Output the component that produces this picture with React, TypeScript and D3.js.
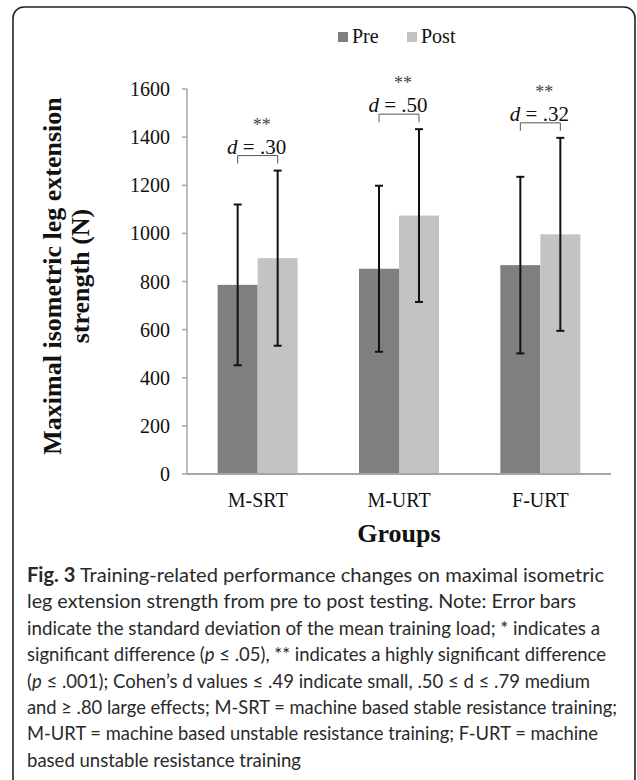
import * as d3 from 'd3';

const groups = ['M-SRT', 'M-URT', 'F-URT'];
const seriesNames = ['Pre', 'Post'];
const preMeans = [786, 853, 868];
const preSD = [334, 345, 367];
const postMeans = [897, 1074, 996];
const postSD = [364, 359, 401];
const effectSizes = ['.30', '.50', '.32'];
const significance = ['**', '**', '**'];
const yTicks = [0, 200, 400, 600, 800, 1000, 1200, 1400, 1600];
const yTitleLines = ['Maximal isometric leg extension', 'strength (N)'];
const xTitle = 'Groups';

const captionLines: { text: string; bold?: boolean; italic?: boolean }[][] = [
  [{ text: 'Fig. 3', bold: true }, { text: ' Training-related performance changes on maximal isometric' }],
  [{ text: 'leg extension strength from pre to post testing. Note: Error bars' }],
  [{ text: 'indicate the standard deviation of the mean training load; * indicates a' }],
  [
    { text: 'significant difference (' },
    { text: 'p', italic: true },
    { text: ' ≤ .05), ** indicates a highly significant difference' },
  ],
  [
    { text: '(' },
    { text: 'p', italic: true },
    { text: ' ≤ .001); Cohen’s d values ≤ .49 indicate small, .50 ≤ d ≤ .79 medium' },
  ],
  [{ text: 'and ≥ .80 large effects; M-SRT = machine based stable resistance training;' }],
  [{ text: 'M-URT = machine based unstable resistance training; F-URT = machine' }],
  [{ text: 'based unstable resistance training' }],
];
const captionWidths = [577, 549, 573, 579, 563, 590, 571, 274];

const serif = '"Liberation Serif", "Times New Roman", serif';
const colors: Record<string, string> = { Pre: '#7f7f7f', Post: '#c3c3c3' };

export default function App() {
  const width = 637;
  const height = 780;
  const margin = { top: 89, left: 187, right: 26, bottom: 306 };
  const plotBottom = height - margin.bottom;

  const x0 = d3
    .scaleBand()
    .domain(groups)
    .range([margin.left, width - margin.right]);
  const bw = x0.bandwidth();
  const x1 = d3
    .scaleBand()
    .domain(seriesNames)
    .range([bw / 2 - 40, bw / 2 + 40]);

  const y = d3.scaleLinear().domain([0, 1600]).range([plotBottom, margin.top]);

  const rows = groups.map((g, i) => ({
    group: g,
    bars: [
      { key: 'Pre', mean: preMeans[i], sd: preSD[i] },
      { key: 'Post', mean: postMeans[i], sd: postSD[i] },
    ],
    d: effectSizes[i],
    sig: significance[i],
  }));

  const capBaseline = 582;
  const capStep = 26.4;

  return (
    <svg
      width={width}
      height={height}
      style={{ position: 'absolute', left: 0, top: 0, background: '#fff' }}
    >
      <rect x={13} y={7} width={622} height={790} rx={11} fill="none" stroke="#222" strokeWidth={1.6} />

      {/* 图例 */}
      {seriesNames.map((s, i) => (
        <g key={s} transform={`translate(${338 + i * 69},0)`}>
          <rect x={0} y={32} width={10} height={10} fill={colors[s]} />
          <text x={14} y={43} fontFamily={serif} fontSize={20} fill="#111">
            {s}
          </text>
        </g>
      ))}

      {/* y 轴 */}
      <line x1={margin.left} x2={margin.left} y1={y(1600)} y2={plotBottom} stroke="#a6a6a6" strokeWidth={1.5} />
      {yTicks.map((t) => (
        <g key={t}>
          <line x1={margin.left - 5} x2={margin.left} y1={y(t)} y2={y(t)} stroke="#a6a6a6" strokeWidth={1.5} />
          <text
            x={margin.left - 17}
            y={y(t) + 7}
            textAnchor="end"
            fontFamily={serif}
            fontSize={20}
            fill="#111"
          >
            {t}
          </text>
        </g>
      ))}

      {/* 柱子 */}
      {rows.map((r) => (
        <g key={r.group} transform={`translate(${x0(r.group)},0)`}>
          {r.bars.map((b) => (
            <rect
              key={b.key}
              x={x1(b.key)}
              y={y(b.mean)}
              width={x1.bandwidth()}
              height={plotBottom - y(b.mean)}
              fill={colors[b.key]}
            />
          ))}
        </g>
      ))}

      {/* x 轴 */}
      <line
        x1={margin.left}
        x2={width - margin.right}
        y1={plotBottom}
        y2={plotBottom}
        stroke="#a6a6a6"
        strokeWidth={2}
      />

      {/* 误差线 */}
      {rows.map((r) => (
        <g key={r.group + '-err'} transform={`translate(${x0(r.group)},0)`}>
          {r.bars.map((b) => {
            const cx = (x1(b.key) as number) + x1.bandwidth() / 2;
            return (
              <g key={b.key} stroke="#111" strokeWidth={2}>
                <line x1={cx} x2={cx} y1={y(b.mean + b.sd)} y2={y(b.mean - b.sd)} />
                <line x1={cx - 4} x2={cx + 4} y1={y(b.mean + b.sd)} y2={y(b.mean + b.sd)} />
                <line x1={cx - 4} x2={cx + 4} y1={y(b.mean - b.sd)} y2={y(b.mean - b.sd)} />
              </g>
            );
          })}
        </g>
      ))}

      {/* 显著性标注 */}
      {rows.map((r) => {
        const gx = x0(r.group) as number;
        const xa = gx + (x1('Pre') as number) + x1.bandwidth() / 2;
        const xb = gx + (x1('Post') as number) + x1.bandwidth() / 2;
        const post = r.bars[1];
        const by = y(post.mean + post.sd) - 15;
        const mid = (xa + xb) / 2;
        return (
          <g key={r.group + '-sig'}>
            <path
              d={`M${xa},${by + 8}V${by}H${xb}V${by + 8}`}
              fill="none"
              stroke="#555"
              strokeWidth={1}
            />
            <text x={mid - 1} y={by - 2} textAnchor="middle" fontFamily={serif} fontSize={21} fill="#111">
              <tspan fontStyle="italic">d</tspan> = {r.d}
            </text>
            <text x={mid + 4} y={by - 25} textAnchor="middle" fontFamily={serif} fontSize={18} fill="#444">
              {r.sig}
            </text>
          </g>
        );
      })}

      {/* x 轴标签 */}
      {groups.map((g) => (
        <text
          key={g}
          x={(x0(g) as number) + bw / 2}
          y={507}
          textAnchor="middle"
          fontFamily={serif}
          fontSize={20}
          fill="#111"
        >
          {g}
        </text>
      ))}

      {/* 坐标轴标题 */}
      <text
        x={(margin.left + width - margin.right) / 2}
        y={542}
        textAnchor="middle"
        fontFamily={serif}
        fontSize={26}
        fontWeight="bold"
        fill="#111"
      >
        {xTitle}
      </text>
      {yTitleLines.map((line, i) => (
        <text
          key={line}
          transform={`translate(${61 + i * 28},276) rotate(-90)`}
          textAnchor="middle"
          fontFamily={serif}
          fontSize={26}
          fontWeight="bold"
          fill="#111"
        >
          {line}
        </text>
      ))}

      {/* 图注 */}
      {captionLines.map((parts, i) => (
        <text
          key={i}
          x={27}
          y={capBaseline + i * capStep}
          fontFamily="Lato, 'Open Sans', sans-serif"
          fontSize={20}
          fill="#2a2a2a"
          textLength={captionWidths[i]}
          lengthAdjust="spacingAndGlyphs"
        >
          {parts.map((p, j) => (
            <tspan key={j} fontWeight={p.bold ? 'bold' : 'normal'} fontStyle={p.italic ? 'italic' : 'normal'}>
              {p.text}
            </tspan>
          ))}
        </text>
      ))}
    </svg>
  );
}
